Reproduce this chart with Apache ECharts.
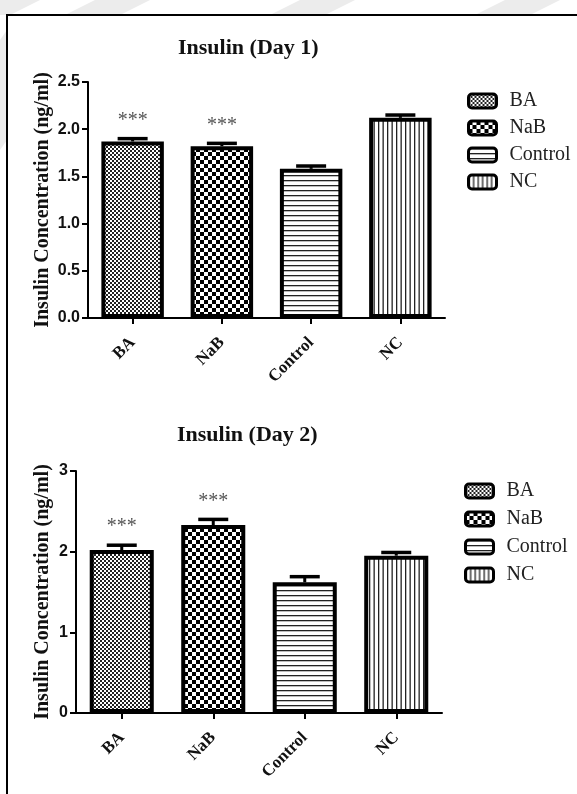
<!DOCTYPE html>
<html><head><meta charset="utf-8">
<script src="https://cdn.jsdelivr.net/npm/echarts@6/dist/echarts.min.js"></script>
<style>html,body{margin:0;padding:0;background:#fff}#c{width:577px;height:794px}</style>
</head><body><div id="c"></div>
<script>
const categories = ['BA', 'NaB', 'Control', 'NC'];
const day1Values = [1.87, 1.82, 1.58, 2.12];
const day1Errors = [0.03, 0.03, 0.03, 0.03];
const day1Sig = ['***', '***', '', ''];
const day2Values = [2.02, 2.33, 1.62, 1.95];
const day2Errors = [0.06, 0.07, 0.07, 0.04];
const day2Sig = ['***', '***', '', ''];
const day1Ticks = ['0.0', '0.5', '1.0', '1.5', '2.0', '2.5'];
const day2Ticks = ['0', '1', '2', '3'];
const titles = ['Insulin (Day 1)', 'Insulin (Day 2)'];
const yName = 'Insulin Concentration (ng/ml)';

function makePattern(w, h, draw) {
  const c = document.createElement('canvas');
  c.width = w; c.height = h;
  const g = c.getContext('2d');
  g.fillStyle = '#fff'; g.fillRect(0, 0, w, h);
  g.fillStyle = '#111';
  draw(g);
  return { image: c, repeat: 'repeat' };
}
const patterns = [
  makePattern(4, 4, g => { g.fillStyle = '#222'; g.fillRect(0, 0, 2, 2); g.fillRect(2, 2, 2, 2); }),
  makePattern(8, 8, g => { g.fillStyle = '#000'; g.fillRect(0, 0, 4, 4); g.fillRect(4, 4, 4, 4); }),
  makePattern(4, 5, g => { g.fillStyle = '#222'; g.fillRect(0, 0, 4, 1.3); }),
  makePattern(9, 4, g => { g.fillStyle = '#222'; g.fillRect(0, 0, 1.3, 4); g.fillRect(4.5, 0, 1.3, 4); })
];

const serif = '"Liberation Serif", "Times New Roman", serif';
const sans = '"Liberation Sans", Arial, sans-serif';

const charts = [
  { values: day1Values, errors: day1Errors, sig: day1Sig, ticks: day1Ticks, max: 2.5, interval: 0.5, nameGap: 35,
    grid: { left: 88, top: 82, width: 357, height: 236 }, titleLeft: 178, titleTop: 37, legendLeft: 467, legendTop: 91, legendGap: 7 },
  { values: day2Values, errors: day2Errors, sig: day2Sig, ticks: day2Ticks, max: 3, interval: 1, nameGap: 23,
    grid: { left: 76, top: 471, width: 366, height: 242 }, titleLeft: 177, titleTop: 424, legendLeft: 464, legendTop: 481, legendGap: 8 }
];

const option = {
  backgroundColor: '#fff',
  animation: false,
  title: [], grid: [], xAxis: [], yAxis: [], legend: [], series: [],
  graphic: [
    { type: 'polygon', shape: { points: [[0,0],[40,0],[10,15],[0,15]] }, style: { fill: '#ececec' }, silent: true },
    { type: 'polygon', shape: { points: [[95,0],[150,0],[120,15],[65,15]] }, style: { fill: '#ececec' }, silent: true },
    { type: 'polygon', shape: { points: [[300,0],[355,0],[325,15],[270,15]] }, style: { fill: '#ececec' }, silent: true },
    { type: 'polygon', shape: { points: [[505,0],[560,0],[530,15],[475,15]] }, style: { fill: '#ececec' }, silent: true },
    { type: 'polygon', shape: { points: [[0,40],[7,30],[7,140],[0,150]] }, style: { fill: '#ececec' }, silent: true },
    { type: 'rect', shape: { x: 7, y: 15, width: 600, height: 820 }, style: { fill: 'none', stroke: '#000', lineWidth: 2 }, silent: true }
  ]
};

charts.forEach((ch, k) => {
  option.title.push({ text: titles[k], left: ch.titleLeft, top: ch.titleTop, padding: 0,
    textStyle: { fontFamily: serif, fontWeight: 'bold', fontSize: 22, color: '#111' } });
  option.grid.push(Object.assign({ containLabel: false }, ch.grid));
  option.xAxis.push({
    type: 'category', gridIndex: k, data: categories,
    axisLine: { lineStyle: { color: '#000', width: 2 } },
    axisTick: { show: true, alignWithLabel: true, length: 6, lineStyle: { color: '#000', width: 2 } },
    axisLabel: { rotate: 45, margin: 22, fontFamily: serif, fontWeight: 'bold', fontSize: 17, color: '#111' },
    splitLine: { show: false }
  });
  option.yAxis.push({
    type: 'value', gridIndex: k, min: 0, max: ch.max, interval: ch.interval,
    name: yName, nameLocation: 'middle', nameGap: ch.nameGap, nameRotate: 90, nameMoveOverlap: false,
    nameTextStyle: { fontFamily: serif, fontWeight: 'bold', fontSize: 20, color: '#111' },
    axisLine: { show: true, lineStyle: { color: '#000', width: 2 } },
    axisTick: { show: true, length: 6, lineStyle: { color: '#000', width: 2 } },
    axisLabel: { margin: 8, fontFamily: sans, fontWeight: 'bold', fontSize: 16, color: '#111',
      formatter: v => ch.ticks[Math.round(v / ch.interval)] },
    splitLine: { show: false }
  });
  option.legend.push({
    orient: 'vertical', left: ch.legendLeft, top: ch.legendTop, data: categories, padding: 0,
    itemWidth: 28, itemHeight: 14, itemGap: ch.legendGap, icon: 'roundRect',
    itemStyle: { borderColor: '#000', borderWidth: 3 },
    textStyle: { fontFamily: serif, fontSize: 20, color: '#222', padding: [0, 0, 0, 8] },
    selectedMode: false
  });
  categories.forEach((cat, i) => {
    option.series.push({
      type: 'bar', name: cat, xAxisIndex: k, yAxisIndex: k,
      data: ch.values.map((v, j) => j === i ? v : '-'),
      barGap: '-100%', barWidth: '70%',
      itemStyle: { color: patterns[i], borderColor: '#000', borderWidth: 4 },
      z: 2
    });
  });
  option.series.push({
    type: 'custom', name: 'err' + k, xAxisIndex: k, yAxisIndex: k, z: 3,
    encode: { x: 0, y: 1 },
    data: ch.values.map((v, j) => [j, v, ch.errors[j]]),
    renderItem: (params, api) => {
      const j = api.value(0), v = api.value(1), e = api.value(2);
      const p0 = api.coord([j, v]);
      const p1 = api.coord([j, v + e]);
      const children = [
        { type: 'line', shape: { x1: p0[0], y1: p0[1], x2: p1[0], y2: p1[1] }, style: { stroke: '#000', lineWidth: 3 } },
        { type: 'line', shape: { x1: p1[0] - 15, y1: p1[1], x2: p1[0] + 15, y2: p1[1] }, style: { stroke: '#000', lineWidth: 3.5 } }
      ];
      if (ch.sig[j]) {
        children.push({ type: 'text', x: p1[0], y: p1[1] - 18,
          style: { text: ch.sig[j], fontFamily: serif, fontSize: 20, fill: '#555', align: 'center', verticalAlign: 'middle' } });
      }
      return { type: 'group', children };
    }
  });
});

const chart = echarts.init(document.getElementById('c'), null, { renderer: 'canvas' });
chart.setOption(option);
</script>
</body></html>
